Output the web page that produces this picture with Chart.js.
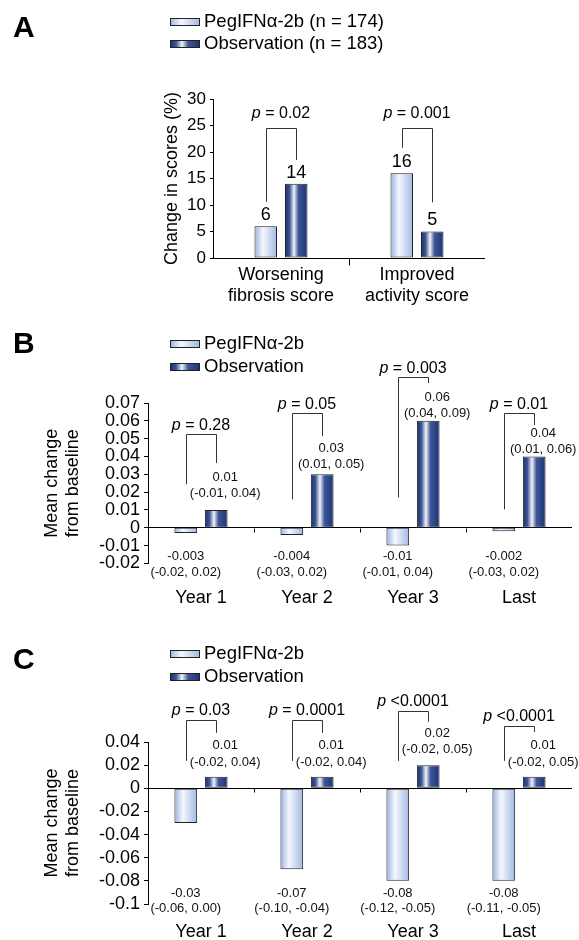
<!DOCTYPE html>
<html lang="en">
<head>
<meta charset="UTF-8">
<title>PegIFNα-2b vs observation</title>
<script src="https://cdn.jsdelivr.net/npm/chart.js@4"></script>
<style>
  html, body { margin: 0; padding: 0; background: #fff; }
  body { width: 579px; height: 940px; position: relative; overflow: hidden; }
  canvas { position: absolute; left: 0; }
</style>
</head>
<body>
<canvas id="chartA" width="579" height="310" style="top:0"></canvas>
<canvas id="chartB" width="579" height="310" style="top:310px"></canvas>
<canvas id="chartC" width="579" height="320" style="top:620px"></canvas>
<script>
// ---- data: panel A (% of patients)
const catsA = [['Worsening', 'fibrosis score'], ['Improved', 'activity score']];
const namesA = ['PegIFNα-2b (n = 174)', 'Observation (n = 183)'];
const pegA = [6, 16];
const obsA = [14, 5];
const pA = ['= 0.02', '= 0.001'];

// ---- data: panel B (mean change from baseline)
const catsB = ['Year 1', 'Year 2', 'Year 3', 'Last'];
const namesB = ['PegIFNα-2b', 'Observation'];
const pegB = [-0.003, -0.004, -0.01, -0.002];
const pegCiB = [[-0.02, 0.02], [-0.03, 0.02], [-0.01, 0.04], [-0.03, 0.02]];
const obsB = [0.01, 0.03, 0.06, 0.04];
const obsCiB = [[-0.01, 0.04], [0.01, 0.05], [0.04, 0.09], [0.01, 0.06]];
const pB = ['= 0.28', '= 0.05', '= 0.003', '= 0.01'];

// ---- data: panel C (mean change from baseline)
const catsC = ['Year 1', 'Year 2', 'Year 3', 'Last'];
const namesC = ['PegIFNα-2b', 'Observation'];
const pegC = [-0.03, -0.07, -0.08, -0.08];
const pegCiC = [[-0.06, 0.00], [-0.10, -0.04], [-0.12, -0.05], [-0.11, -0.05]];
const obsC = [0.01, 0.01, 0.02, 0.01];
const obsCiC = [[-0.02, 0.04], [-0.02, 0.04], [-0.02, 0.05], [-0.02, 0.05]];
const pC = ['= 0.03', '= 0.0001', '<0.0001', '<0.0001'];

// annotation heights (axis units): bracket top, left leg end, right leg end
const bracketsA = { top: [24.5, 24.5], left: [10.6, 20.8], right: [18.5, 10.5] };
const bracketsB = { top: [0.0525, 0.0644, 0.0847, 0.0644], left: [0.0244, 0.0159, 0.017, 0.0103], right: [0.0363, 0.0514, 0.0812, 0.0576] };
const bracketsC = { top: [0.0592, 0.0592, 0.067, 0.0539], left: [0.0237, 0.0237, 0.0237, 0.0237], right: [0.0479, 0.0479, 0.0574, 0.0487] };
const obsLabelAtB = [0.0193, 0.0356, 0.0643, 0.0441];
const obsLabelAtC = [0.0225, 0.0225, 0.0332, 0.0225];

const FONT = '"Liberation Sans", Arial, Helvetica, sans-serif';
const PEG_STOPS = [[0, '#9cb2df'], [0.38, '#f5f8fd'], [1, '#a2b7e2']];
const OBS_STOPS = [[0, '#1b3270'], [0.2, '#3c5392'], [0.4, '#f1f4fa'], [0.6, '#3f5796'], [1, '#1b3373']];

Chart.defaults.font.family = FONT;
Chart.defaults.color = '#000';

function grad(ctx, x0, x1, stops) {
  const g = ctx.createLinearGradient(x0, 0, x1, 0);
  stops.forEach(s => g.addColorStop(s[0], s[1]));
  return g;
}

const fmt = v => String(Math.round(v * 10000) / 10000);
const ci = r => '(' + r[0].toFixed(2) + ', ' + r[1].toFixed(2) + ')';

function makePanel(p) {
  const canvas = document.getElementById(p.id);
  const W = canvas.width, H = canvas.height;
  const n = p.cats.length;

  const slot = chart => chart.scales.x.width / n * p.catPct / 2;
  const barCenter = (chart, ds, i) => chart.scales.x.getPixelForValue(i) + (ds - 0.5) * slot(chart);
  const fill = stops => c => {
    if (c.type !== 'data' || !c.chart.scales.x) return stops[1][1];
    const cx = barCenter(c.chart, c.datasetIndex, c.dataIndex);
    const w = slot(c.chart) * p.barPct;
    if (!isFinite(cx) || !isFinite(w) || w <= 0) return stops[1][1];
    return grad(c.chart.ctx, cx - w / 2, cx + w / 2, stops);
  };

  const annot = {
    id: 'annot' + p.id,
    afterDraw(chart) {
      const ctx = chart.ctx, a = chart.chartArea, ys = chart.scales.y, xs = chart.scales.x;
      ctx.save();
      ctx.fillStyle = '#000';

      // panel letter
      ctx.font = 'bold 30px ' + FONT;
      ctx.textAlign = 'left';
      ctx.textBaseline = 'alphabetic';
      ctx.fillText(p.letter, 13, p.letterY);

      // legend
      ctx.font = '18.5px ' + FONT;
      ctx.textBaseline = 'middle';
      [PEG_STOPS, OBS_STOPS].forEach((stops, k) => {
        const cy = p.legendY[k];
        ctx.fillStyle = grad(ctx, 170, 200, stops);
        ctx.fillRect(170, cy - 4, 30, 8);
        ctx.strokeStyle = '#222';
        ctx.lineWidth = 1;
        ctx.strokeRect(170.5, cy - 3.5, 29, 7);
        ctx.fillStyle = '#000';
        ctx.fillText(p.names[k], 204, cy);
      });

      // small ticks between categories
      const y0 = Math.round(ys.getPixelForValue(0)) + 0.5;
      ctx.strokeStyle = '#000';
      ctx.lineWidth = 1;
      for (let i = 1; i < n; i++) {
        const x = Math.round(a.left + i * xs.width / n) + 0.5;
        ctx.beginPath();
        ctx.moveTo(x, y0);
        ctx.lineTo(x, y0 + p.catTick);
        ctx.stroke();
      }

      // brackets with p values
      ctx.strokeStyle = '#333';
      for (let i = 0; i < n; i++) {
        const xl = Math.round(barCenter(chart, 0, i)) + 0.5;
        const xr = Math.round(barCenter(chart, 1, i)) + 0.5;
        const yt = Math.round(ys.getPixelForValue(p.brackets.top[i])) + 0.5;
        ctx.beginPath();
        ctx.moveTo(xl, ys.getPixelForValue(p.brackets.left[i]));
        ctx.lineTo(xl, yt);
        ctx.lineTo(xr, yt);
        ctx.lineTo(xr, ys.getPixelForValue(p.brackets.right[i]));
        ctx.stroke();

        const cx = xs.getPixelForValue(i);
        const ty = yt - p.pGap;
        ctx.font = 'italic 16px ' + FONT;
        const w1 = ctx.measureText('p ').width;
        ctx.font = '16px ' + FONT;
        const w2 = ctx.measureText(p.p[i]).width;
        const x0 = cx - (w1 + w2) / 2;
        ctx.textAlign = 'left';
        ctx.font = 'italic 16px ' + FONT;
        ctx.fillText('p ', x0, ty);
        ctx.font = '16px ' + FONT;
        ctx.fillText(p.p[i], x0 + w1, ty);
      }

      // value labels
      ctx.textAlign = 'center';
      ctx.textBaseline = 'middle';
      if (p.simpleLabels) {
        ctx.font = '18px ' + FONT;
        [p.peg, p.obs].forEach((vals, ds) => {
          vals.forEach((v, i) => {
            ctx.fillText(fmt(v), barCenter(chart, ds, i), ys.getPixelForValue(v) - 11);
          });
        });
      } else {
        ctx.font = '13px ' + FONT;
        ctx.fillStyle = '#111';
        for (let i = 0; i < n; i++) {
          const xo = barCenter(chart, 1, i) + 9;
          const yo = ys.getPixelForValue(p.obsLabelAt[i]);
          ctx.fillText(fmt(p.obs[i]), xo, yo - p.obsGap);
          ctx.fillText(ci(p.obsCi[i]), xo, yo);
          const xp = barCenter(chart, 0, i);
          const yp = ys.getPixelForValue(p.pegLabelAt);
          ctx.fillText(fmt(p.peg[i]), xp, yp);
          ctx.fillText(ci(p.pegCi[i]), xp, yp + p.pegGap);
        }
      }
      ctx.restore();
    }
  };

  return new Chart(canvas, {
    type: 'bar',
    data: {
      labels: p.cats,
      datasets: [
        { label: p.names[0], data: p.peg, backgroundColor: fill(PEG_STOPS), borderColor: '#222', borderWidth: 1, borderSkipped: false,
          categoryPercentage: p.catPct, barPercentage: p.barPct },
        { label: p.names[1], data: p.obs, backgroundColor: fill(OBS_STOPS), borderColor: '#222', borderWidth: 1, borderSkipped: false,
          categoryPercentage: p.catPct, barPercentage: p.barPct }
      ]
    },
    options: {
      responsive: false,
      animation: false,
      events: [],
      layout: { autoPadding: false, padding: { left: 0, top: p.area.top, right: W - p.area.right, bottom: 0 } },
      plugins: { legend: { display: false }, tooltip: { enabled: false } },
      scales: {
        x: {
          grid: { display: false, drawTicks: false },
          border: { display: false },
          ticks: { color: '#000', font: { size: 18 }, padding: p.xPad, maxRotation: 0, autoSkip: false },
          afterFit: s => { s.height = H - p.area.bottom; }
        },
        y: {
          min: p.yMin, max: p.yMax,
          ticks: { stepSize: p.step, autoSkip: false, color: '#000', padding: 4, font: { size: p.tickFont }, callback: v => fmt(v) },
          grid: {
            color: c => (c.tick && Math.abs(c.tick.value) < 1e-9) ? '#000' : 'rgba(0,0,0,0)',
            tickColor: '#000', tickLength: p.tickLen, lineWidth: 1
          },
          border: { display: true, color: '#000', width: 1 },
          title: { display: true, text: p.yTitle, color: '#000', font: { size: 18 }, padding: { top: p.titlePad, bottom: 0 } },
          afterFit: s => { s.width = p.area.left; }
        }
      }
    },
    plugins: [annot]
  });
}

makePanel({
  id: 'chartA', letter: 'A', letterY: 37, legendY: [22, 44], names: namesA,
  cats: catsA, peg: pegA, obs: obsA, p: pA, brackets: bracketsA, pGap: 15,
  area: { left: 213, right: 485, top: 99, bottom: 258 },
  catPct: 0.4485, barPct: 0.738, yMin: 0, yMax: 30, step: 5, tickFont: 17, tickLen: 3,
  yTitle: 'Change in scores (%)', titlePad: 161, xPad: 6, catTick: 7, simpleLabels: true
});

makePanel({
  id: 'chartB', letter: 'B', letterY: 43, legendY: [34, 57], names: namesB,
  cats: catsB, peg: pegB, obs: obsB, pegCi: pegCiB, obsCi: obsCiB, p: pB, brackets: bracketsB, pGap: 9,
  obsLabelAt: obsLabelAtB, obsGap: 15.5, pegLabelAt: -0.0162, pegGap: 16,
  area: { left: 148, right: 572, top: 93, bottom: 253.4 },
  catPct: 0.574, barPct: 0.747, yMin: -0.02, yMax: 0.07, step: 0.01, tickFont: 18, tickLen: 4,
  yTitle: ['Mean change', 'from baseline'], titlePad: 41, xPad: 24, catTick: 4
});

makePanel({
  id: 'chartC', letter: 'C', letterY: 49, legendY: [34, 57], names: namesC,
  cats: catsC, peg: pegC, obs: obsC, pegCi: pegCiC, obsCi: obsCiC, p: pC, brackets: bracketsC, pGap: 9.5,
  obsLabelAt: obsLabelAtC, obsGap: 16.5, pegLabelAt: -0.0905, pegGap: 15,
  area: { left: 148, right: 572, top: 122, bottom: 284 },
  catPct: 0.574, barPct: 0.747, yMin: -0.1, yMax: 0.04, step: 0.02, tickFont: 18, tickLen: 4,
  yTitle: ['Mean change', 'from baseline'], titlePad: 41, xPad: 17, catTick: 4
});
</script>
</body>
</html>
